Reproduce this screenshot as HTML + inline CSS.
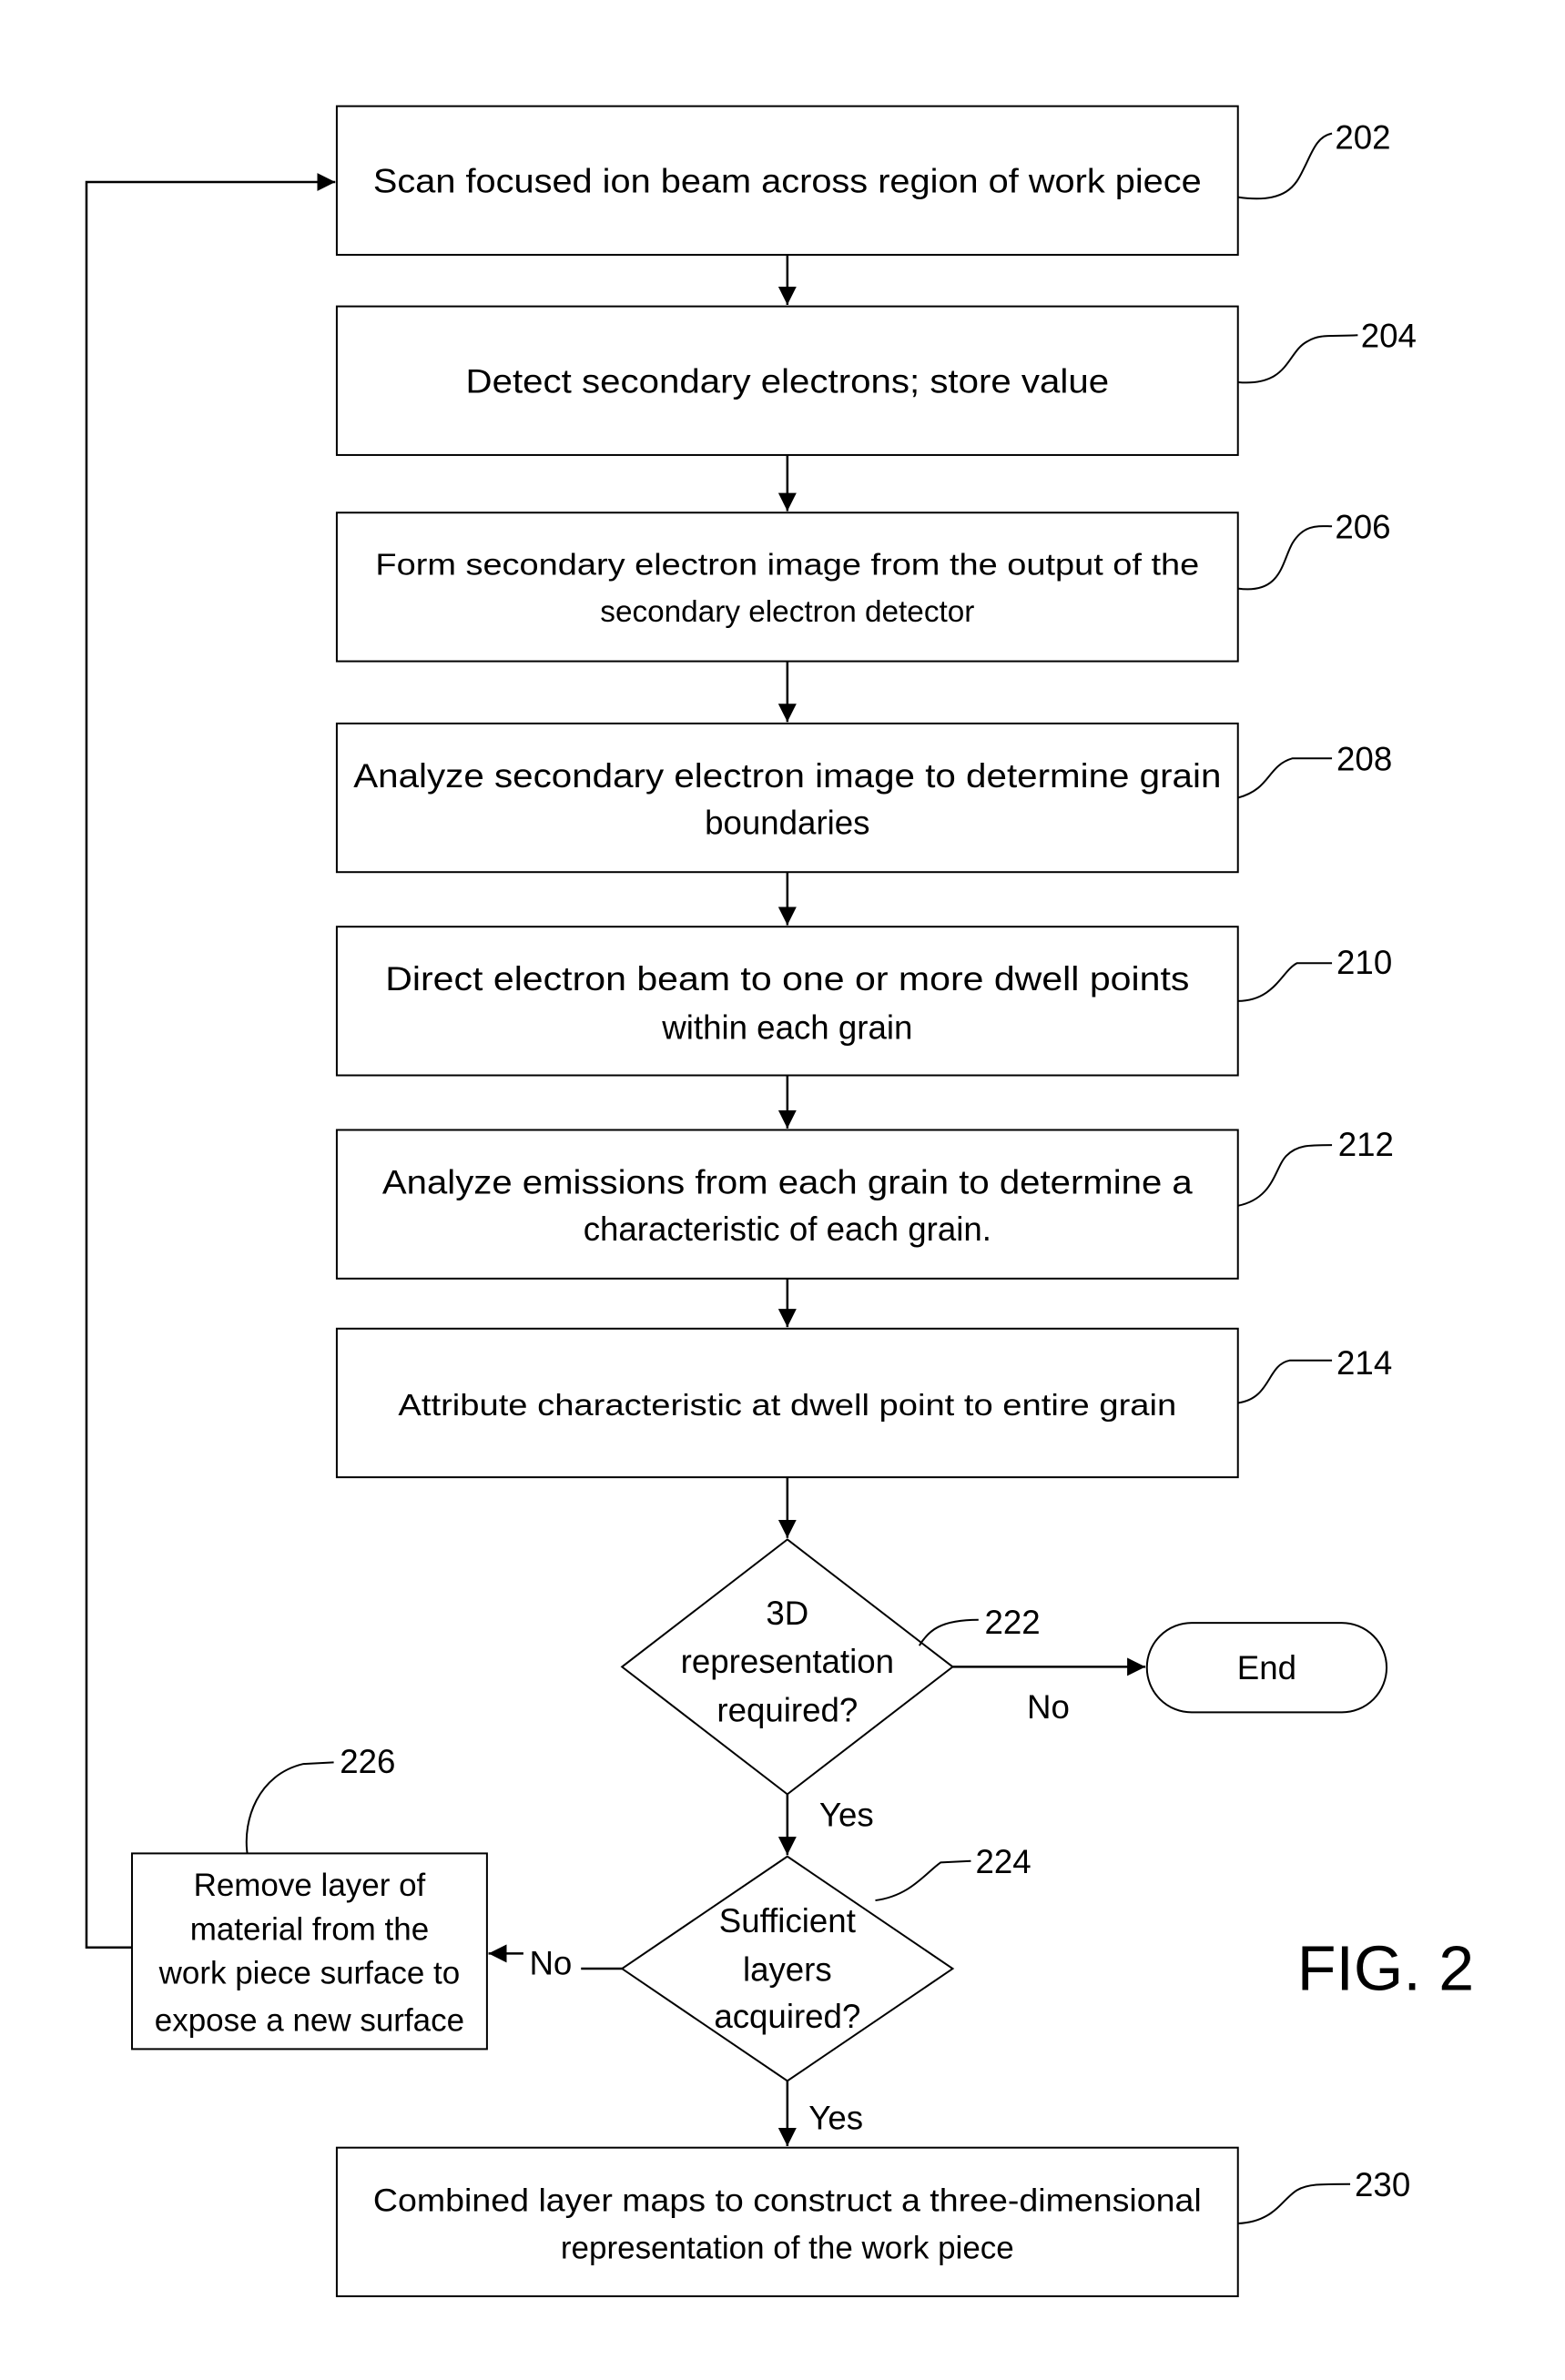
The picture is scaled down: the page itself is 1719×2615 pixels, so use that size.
<!DOCTYPE html>
<html><head><meta charset="utf-8"><style>html,body{margin:0;padding:0;background:#fff}svg{display:block}</style></head><body>
<svg width="1719" height="2615" viewBox="0 0 1031.6 1569.2" preserveAspectRatio="none" xmlns="http://www.w3.org/2000/svg" font-family="Liberation Sans, sans-serif" fill="none" stroke="#000" stroke-width="1">
<defs><marker id="b" viewBox="0 0 10 10" refX="10" refY="5" markerWidth="12" markerHeight="12" orient="auto" markerUnits="userSpaceOnUse"><path d="M0,0 L10,5 L0,10 z" fill="#000" stroke="none"/></marker></defs>
<g stroke-width="1.2">
<rect x="222" y="70" width="594" height="98"/>
<rect x="222" y="202" width="594" height="98"/>
<rect x="222" y="338" width="594" height="98"/>
<rect x="222" y="477" width="594" height="98"/>
<rect x="222" y="611" width="594" height="98"/>
<rect x="222" y="745" width="594" height="98"/>
<rect x="222" y="876" width="594" height="98"/>
<rect x="222" y="1416" width="594" height="98"/>
<rect x="87" y="1222" width="234" height="129"/>
<path d="M519,1015 L628,1099 L519,1183 L410,1099 Z"/>
<path d="M519,1224 L628,1298 L519,1372 L410,1298 Z"/>
<rect x="756" y="1070" width="158" height="59" rx="29.5"/>
</g>
<g stroke-width="1.5">
<line x1="519" y1="168" x2="519" y2="201" marker-end="url(#b)"/>
<line x1="519" y1="300" x2="519" y2="337" marker-end="url(#b)"/>
<line x1="519" y1="436" x2="519" y2="476" marker-end="url(#b)"/>
<line x1="519" y1="575" x2="519" y2="610" marker-end="url(#b)"/>
<line x1="519" y1="709" x2="519" y2="744" marker-end="url(#b)"/>
<line x1="519" y1="843" x2="519" y2="875" marker-end="url(#b)"/>
<line x1="519" y1="974" x2="519" y2="1014" marker-end="url(#b)"/>
<line x1="519" y1="1183" x2="519" y2="1223" marker-end="url(#b)"/>
<line x1="519" y1="1372" x2="519" y2="1415" marker-end="url(#b)"/>
<line x1="628" y1="1099" x2="755" y2="1099" marker-end="url(#b)"/>
<path d="M410,1298 L383,1298"/>
<path d="M87,1284 L57,1284 L57,120 L221,120" marker-end="url(#b)"/>
<path d="M345,1288 L322,1288" marker-end="url(#b)"/>
</g>
<g stroke-width="1.2">
<path d="M816,130 C850,135 855,120 860,110 C865,100 868,90 878,88"/>
<path d="M816,252 C850,255 848,232 862,225 C870,220 878,222 895,221"/>
<path d="M816,388 C845,392 845,370 852,358 C860,345 870,347 878,347"/>
<path d="M816,526 C838,520 835,505 852,500 L878,500"/>
<path d="M816,660 C840,660 845,640 855,635 L878,635"/>
<path d="M816,795 C840,790 840,770 848,762 C855,755 862,755 878,755"/>
<path d="M816,925 C838,922 835,900 850,897 L878,897"/>
<path d="M606,1085 C612,1075 620,1068 645,1068"/>
<path d="M577,1253 C600,1250 610,1235 620,1228 L640,1227"/>
<path d="M163,1222 C160,1200 170,1170 200,1163 L220,1162"/>
<path d="M816,1466 C840,1465 845,1450 855,1444 C862,1440 870,1440 890,1440"/>
</g>
<g fill="#000" stroke="none" font-size="22" text-anchor="middle">
<text x="519" y="127" textLength="546" lengthAdjust="spacingAndGlyphs">Scan focused ion beam across region of work piece</text>
<text x="519" y="259" textLength="424" lengthAdjust="spacingAndGlyphs">Detect secondary electrons; store value</text>
<text x="519" y="379" font-size="20" textLength="543" lengthAdjust="spacingAndGlyphs">Form secondary electron image from  the output of the</text>
<text x="519" y="410" font-size="20">secondary electron detector</text>
<text x="519" y="519" textLength="572" lengthAdjust="spacingAndGlyphs">Analyze secondary electron image to determine grain</text>
<text x="519" y="550">boundaries</text>
<text x="519" y="653" textLength="530" lengthAdjust="spacingAndGlyphs">Direct electron beam to one or more dwell points</text>
<text x="519" y="685">within each grain</text>
<text x="519" y="787" textLength="534" lengthAdjust="spacingAndGlyphs">Analyze emissions from each grain to determine a</text>
<text x="519" y="818">characteristic of each grain.</text>
<text x="519" y="933" font-size="20" textLength="513" lengthAdjust="spacingAndGlyphs">Attribute characteristic at dwell point to entire grain</text>
<text x="519" y="1071">3D</text>
<text x="519" y="1103">representation</text>
<text x="519" y="1135">required?</text>
<text x="519" y="1274">Sufficient</text>
<text x="519" y="1306">layers</text>
<text x="519" y="1337">acquired?</text>
<text x="835" y="1107">End</text>
<text x="691" y="1133">No</text>
<text x="558" y="1204">Yes</text>
<text x="551" y="1404">Yes</text>
<text x="363" y="1302">No</text>
<text x="204" y="1250" font-size="21">Remove layer of</text>
<text x="204" y="1279" font-size="21">material from the</text>
<text x="204" y="1308" font-size="21">work piece surface to</text>
<text x="204" y="1339" font-size="21">expose a new surface</text>
<text x="519" y="1458" font-size="21" textLength="546" lengthAdjust="spacingAndGlyphs">Combined  layer maps to construct a three-dimensional</text>
<text x="519" y="1489" font-size="21">representation of the work piece</text>
<g text-anchor="start">
<text x="880" y="98">202</text>
<text x="897" y="229">204</text>
<text x="880" y="355">206</text>
<text x="881" y="508">208</text>
<text x="881" y="642">210</text>
<text x="882" y="762">212</text>
<text x="881" y="906">214</text>
<text x="649" y="1077">222</text>
<text x="643" y="1235">224</text>
<text x="224" y="1169">226</text>
<text x="893" y="1448">230</text>
<text x="855" y="1312" font-size="42">FIG. 2</text>
</g>
</g>
</svg>
</body></html>
